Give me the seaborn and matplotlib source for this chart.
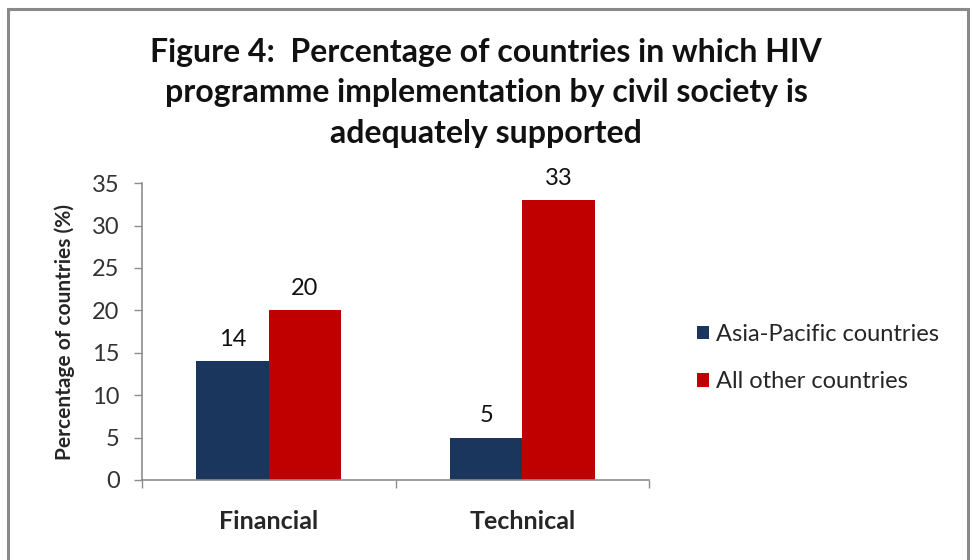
import matplotlib
matplotlib.use("Agg")
import matplotlib.pyplot as plt
import seaborn as sns
import pandas as pd
from matplotlib.patches import Rectangle

categories = ["Financial", "Technical"]
asia_pacific = [14, 5]
all_other = [20, 33]
series_names = ["Asia-Pacific countries", "All other countries"]
colors = ["#1b365d", "#c00000"]

df = pd.DataFrame({
    "Support": categories * 2,
    "Group": [series_names[0]] * 2 + [series_names[1]] * 2,
    "Value": asia_pacific + all_other,
})

sns.set_style("white")
plt.rcParams["font.family"] = ["Lato", "DejaVu Sans"]

fig = plt.figure(figsize=(9.72, 5.6), dpi=100)
ax = fig.add_axes([0.146, 0.143, 0.522, 0.530])

sns.barplot(
    data=df,
    x="Support",
    y="Value",
    hue="Group",
    palette=colors,
    width=0.57,
    gap=0,
    saturation=1,
    linewidth=0,
    ax=ax,
)

for cont in ax.containers:
    ax.bar_label(cont, padding=8, fontsize=17, color="#111111")

ax.set_ylim(0, 35)
ax.set_yticks(range(0, 36, 5))
ax.set_xlim(-0.5, 1.5)
ax.set_xlabel("")
ax.set_ylabel("Percentage of countries (%)", fontsize=15,
              fontweight="bold", labelpad=12)

for s in ["top", "right"]:
    ax.spines[s].set_visible(False)
for s in ["left", "bottom"]:
    ax.spines[s].set_color("#8c8c8c")
    ax.spines[s].set_linewidth(1.2)

ax.tick_params(axis="y", length=6, width=1, color="#8c8c8c",
               labelsize=17, labelcolor="#333333", left=True, pad=10)
ax.set_xticks([0, 1], minor=False)
ax.set_xticklabels(categories, fontsize=18, fontweight="bold")
ax.tick_params(axis="x", length=0, pad=22)
ax.set_xticks([-0.5, 0.5, 1.5], minor=True)
ax.tick_params(axis="x", which="minor", length=6, width=1,
               color="#8c8c8c", bottom=True)

ax.legend(
    loc="center left",
    bbox_to_anchor=(1.076, 0.41),
    frameon=False,
    fontsize=17,
    labelspacing=1.12,
    handlelength=0.5,
    handleheight=0.5,
    handletextpad=0.3,
    borderaxespad=0,
)

fig.suptitle(
    "Figure 4:  Percentage of countries in which HIV\n"
    "programme implementation by civil society is\n"
    "adequately supported",
    fontsize=23,
    fontweight="bold",
    y=0.933,
    va="top",
    linespacing=1.49,
    color="#111111",
)

fig.add_artist(Rectangle((0.0085, -0.02), 0.987, 1.004,
                         transform=fig.transFigure, fill=False,
                         edgecolor="#8a8a8a", linewidth=2.2))

fig.savefig("out.png", dpi=100)
